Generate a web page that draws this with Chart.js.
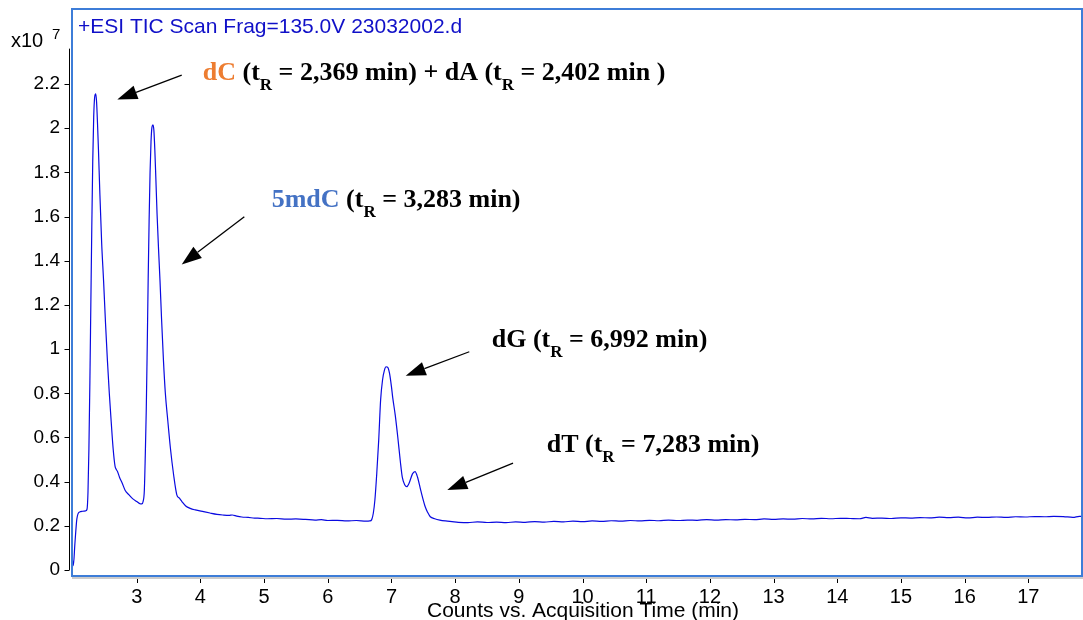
<!DOCTYPE html>
<html lang="en">
<head>
    <meta charset="UTF-8" />
    <title>ESI TIC Scan</title>
    <script src="https://cdn.jsdelivr.net/npm/chart.js"></script>
    <style>
        html, body { margin: 0; padding: 0; background: #fff; }
        #wrap { width: 1083px; height: 620px; position: relative; }
    </style>
</head>
<body>
<div id="wrap"><canvas id="ticChart"></canvas></div>
<script>
    // acquisition time (min) and counts (x10^7)
    const times = [
        1.985, 2.005, 2.03, 2.06, 2.08, 2.10, 2.15, 2.20, 2.22,
        2.235, 2.25, 2.265, 2.28, 2.295, 2.31, 2.325, 2.34, 2.356, 2.37, 2.385, 2.40, 2.42, 2.45, 2.48, 2.51, 2.54, 2.57, 2.60, 2.63, 2.66, 2.68, 2.70, 2.73, 2.77, 2.82, 2.88, 2.94, 3.00, 3.05, 3.08, 3.10,
        3.12, 3.135, 3.15, 3.165, 3.18, 3.195, 3.21, 3.225, 3.24, 3.256, 3.27, 3.285, 3.30, 3.32, 3.345, 3.366, 3.39, 3.42, 3.45, 3.487, 3.53, 3.58, 3.63, 3.67, 3.71, 3.77, 3.84, 3.92, 4.05, 4.15, 4.26, 4.35, 4.45, 4.50, 4.57, 4.65, 4.75, 4.85, 4.94,
        5.05, 5.2, 5.35, 5.5, 5.65, 5.8, 5.9, 6.0, 6.15, 6.3, 6.45, 6.6, 6.66,
        6.69, 6.715, 6.74, 6.77, 6.80, 6.83, 6.86, 6.89, 6.915, 6.94, 6.97, 7.00, 7.02, 7.06, 7.10, 7.14, 7.17, 7.21, 7.24, 7.28, 7.33, 7.37, 7.41, 7.46, 7.53, 7.57, 7.61, 7.68, 7.76, 7.85, 7.95,
        8.05, 8.2, 8.35, 8.5, 8.65, 8.8, 8.95, 9.1, 9.25, 9.4, 9.55, 9.7, 9.85, 10.0, 10.15, 10.3, 10.45, 10.6, 10.75, 10.9, 11.05, 11.2, 11.35, 11.5, 11.65, 11.8, 11.95, 12.1, 12.25, 12.4, 12.55, 12.7, 12.85, 13.0, 13.15, 13.3, 13.45, 13.6, 13.75, 13.9, 14.05, 14.2, 14.35, 14.45, 14.55, 14.7, 14.85, 15.0, 15.15, 15.3, 15.45, 15.6, 15.75, 15.9, 16.05, 16.2, 16.35, 16.5, 16.65, 16.8, 16.95, 17.1, 17.25, 17.4, 17.55, 17.7, 17.8, 17.87
    ];
    const counts = [
        0.06, 0.02, 0.12, 0.23, 0.255, 0.262, 0.266, 0.268, 0.275,
        0.35, 0.55, 0.85, 1.2, 1.55, 1.85, 2.05, 2.14, 2.155, 2.12, 2.02, 1.90, 1.72, 1.48, 1.31, 1.12, 0.95, 0.80, 0.67, 0.55, 0.47, 0.455, 0.445, 0.42, 0.395, 0.36, 0.34, 0.322, 0.31, 0.30, 0.299, 0.31,
        0.36, 0.52, 0.72, 1.0, 1.31, 1.58, 1.80, 1.94, 2.005, 2.015, 1.99, 1.90, 1.78, 1.61, 1.44, 1.31, 1.14, 0.95, 0.80, 0.68, 0.55, 0.43, 0.34, 0.325, 0.31, 0.29, 0.279, 0.272, 0.264, 0.258, 0.252, 0.249, 0.247, 0.249, 0.244, 0.24, 0.238, 0.235, 0.234,
        0.232, 0.233, 0.23, 0.231, 0.229, 0.226, 0.228, 0.224, 0.225, 0.222, 0.224, 0.221, 0.222,
        0.228, 0.257, 0.317, 0.44, 0.588, 0.77, 0.86, 0.905, 0.92, 0.918, 0.89, 0.83, 0.78, 0.70, 0.60, 0.49, 0.42, 0.385, 0.377, 0.395, 0.435, 0.445, 0.42, 0.36, 0.286, 0.26, 0.241, 0.232, 0.226, 0.222, 0.219,
        0.216, 0.214, 0.218, 0.215, 0.217, 0.214, 0.218, 0.216, 0.219, 0.217, 0.220, 0.218, 0.221, 0.219, 0.222, 0.220, 0.223, 0.221, 0.224, 0.222, 0.225, 0.223, 0.226, 0.224, 0.226, 0.225, 0.228, 0.226, 0.228, 0.227, 0.229, 0.228, 0.231, 0.229, 0.231, 0.230, 0.233, 0.231, 0.234, 0.232, 0.234, 0.233, 0.232, 0.238, 0.234, 0.235, 0.233, 0.236, 0.235, 0.237, 0.236, 0.239, 0.237, 0.239, 0.236, 0.239, 0.238, 0.240, 0.238, 0.241, 0.240, 0.242, 0.241, 0.243, 0.242, 0.238, 0.243, 0.242
    ];
    const xTicks = [3, 4, 5, 6, 7, 8, 9, 10, 11, 12, 13, 14, 15, 16, 17];
    const yTicks = [0, 0.2, 0.4, 0.6, 0.8, 1, 1.2, 1.4, 1.6, 1.8, 2, 2.2];

    // peak labels: [time, counts] of the text baseline start, then text pieces
    const K = '#000';
    const labels = [
        { at: [4.037, 2.217], parts: [['dC', '#ED7D31'], [' (t', K], ['R', K, 1], [' = 2,369 min) + dA (t', K], ['R', K, 1], [' = 2,402 min )', K]] },
        { at: [5.120, 1.643], parts: [['5mdC', '#4472C4'], [' (t', K], ['R', K, 1], [' = 3,283 min)', K]] },
        { at: [8.574, 1.009], parts: [['dG (t', K], ['R', K, 1], [' = 6,992 min)', K]] },
        { at: [9.438, 0.534], parts: [['dT (t', K], ['R', K, 1], [' = 7,283 min)', K]] }
    ];
    // arrows: from [time, counts] to tip [time, counts]
    const arrows = [
        [3.707, 2.240, 2.696, 2.130],
        [4.690, 1.599, 3.707, 1.383],
        [8.222, 0.988, 7.224, 0.879],
        [8.909, 0.484, 7.877, 0.362]
    ];

    const SANS = '"Liberation Sans", Arial, sans-serif';
    const SERIF = '"Liberation Serif", "Times New Roman", serif';

    const decor = {
        id: 'decor',
        afterDraw(chart) {
            const { ctx, chartArea: a, scales: { x, y } } = chart;
            ctx.save();

            // frame with a light shadow underneath
            ctx.fillStyle = '#cccccc';
            ctx.fillRect(a.left + 1, a.bottom, a.right - a.left, 2);
            ctx.strokeStyle = '#3d7dd8';
            ctx.lineWidth = 2;
            ctx.strokeRect(a.left + 1, a.top + 1, a.right - a.left - 2, a.bottom - a.top - 2);

            // y axis line and ticks, outside the frame
            ctx.strokeStyle = '#000';
            ctx.lineWidth = 1;
            const ax = a.left - 1.5;
            ctx.beginPath();
            ctx.moveTo(ax, y.getPixelForValue(0));
            ctx.lineTo(ax, y.getPixelForValue(2.36));
            yTicks.forEach(v => {
                const py = Math.round(y.getPixelForValue(v)) + 0.5;
                ctx.moveTo(ax, py);
                ctx.lineTo(ax - 5, py);
            });
            xTicks.forEach(v => {
                const px = Math.round(x.getPixelForValue(v)) + 0.5;
                ctx.moveTo(px, a.bottom + 2);
                ctx.lineTo(px, a.bottom + 6);
            });
            ctx.stroke();

            // header texts
            ctx.fillStyle = '#1010c8';
            ctx.font = '21px ' + SANS;
            ctx.textBaseline = 'alphabetic';
            ctx.fillText('+ESI TIC Scan Frag=135.0V 23032002.d', 78, 33);
            ctx.fillStyle = '#000';
            ctx.font = '20px ' + SANS;
            ctx.fillText('x10', 11, 47);
            ctx.font = '15px ' + SANS;
            ctx.fillText('7', 52, 39);

            // x axis title
            ctx.font = '21px ' + SANS;
            ctx.textAlign = 'center';
            ctx.fillText('Counts vs. Acquisition Time (min)', 583, 617);
            ctx.textAlign = 'left';

            // arrows
            arrows.forEach(([t0, v0, t1, v1]) => {
                const x0 = x.getPixelForValue(t0), y0 = y.getPixelForValue(v0);
                const x1 = x.getPixelForValue(t1), y1 = y.getPixelForValue(v1);
                const ang = Math.atan2(y1 - y0, x1 - x0);
                const hl = 20, hw = 7;
                const bx = x1 - hl * Math.cos(ang), by = y1 - hl * Math.sin(ang);
                ctx.strokeStyle = '#000';
                ctx.lineWidth = 1.3;
                ctx.beginPath();
                ctx.moveTo(x0, y0);
                ctx.lineTo(bx, by);
                ctx.stroke();
                ctx.fillStyle = '#000';
                ctx.beginPath();
                ctx.moveTo(x1, y1);
                ctx.lineTo(bx + hw * Math.sin(ang), by - hw * Math.cos(ang));
                ctx.lineTo(bx - hw * Math.sin(ang), by + hw * Math.cos(ang));
                ctx.closePath();
                ctx.fill();
            });

            // peak labels
            labels.forEach(lb => {
                let px = x.getPixelForValue(lb.at[0]);
                const py = y.getPixelForValue(lb.at[1]);
                lb.parts.forEach(([txt, col, sub]) => {
                    ctx.font = sub ? 'bold 17px ' + SERIF : 'bold 26px ' + SERIF;
                    ctx.fillStyle = col;
                    ctx.fillText(txt, px, sub ? py + 10 : py);
                    px += ctx.measureText(txt).width;
                });
            });

            ctx.restore();
        }
    };

    const ctx = document.getElementById('ticChart').getContext('2d');
    new Chart(ctx, {
        type: 'line',
        data: {
            datasets: [{
                data: times.map((t, i) => ({ x: t, y: counts[i] })),
                borderColor: '#0a0ae0',
                borderWidth: 1.2,
                pointRadius: 0,
                fill: false,
                cubicInterpolationMode: 'monotone'
            }]
        },
        options: {
            responsive: true,
            maintainAspectRatio: false,
            animation: false,
            layout: { padding: { top: 8, right: 0, bottom: 0, left: 0 } },
            plugins: { legend: { display: false }, tooltip: { enabled: false } },
            scales: {
                x: {
                    type: 'linear',
                    min: 1.9686,
                    max: 17.858,
                    afterBuildTicks: s => { s.ticks = xTicks.map(v => ({ value: v })); },
                    afterFit: s => { s.height = 43; s.paddingLeft = 0; s.paddingRight = 0; },
                    grid: { display: false, drawTicks: false },
                    border: { display: false },
                    ticks: { color: '#000', font: { family: SANS, size: 20 }, padding: 8, maxRotation: 0, autoSkip: false }
                },
                y: {
                    min: -0.0317,
                    max: 2.544,
                    afterBuildTicks: s => { s.ticks = yTicks.map(v => ({ value: v })); },
                    afterFit: s => { s.width = 71; s.paddingTop = 0; s.paddingBottom = 0; },
                    grid: { display: false, drawTicks: false },
                    border: { display: false },
                    ticks: {
                        color: '#000',
                        font: { family: SANS, size: 19 },
                        padding: 11,
                        callback: v => String(Math.round(v * 10) / 10)
                    }
                }
            }
        },
        plugins: [decor]
    });
</script>
</body>
</html>
